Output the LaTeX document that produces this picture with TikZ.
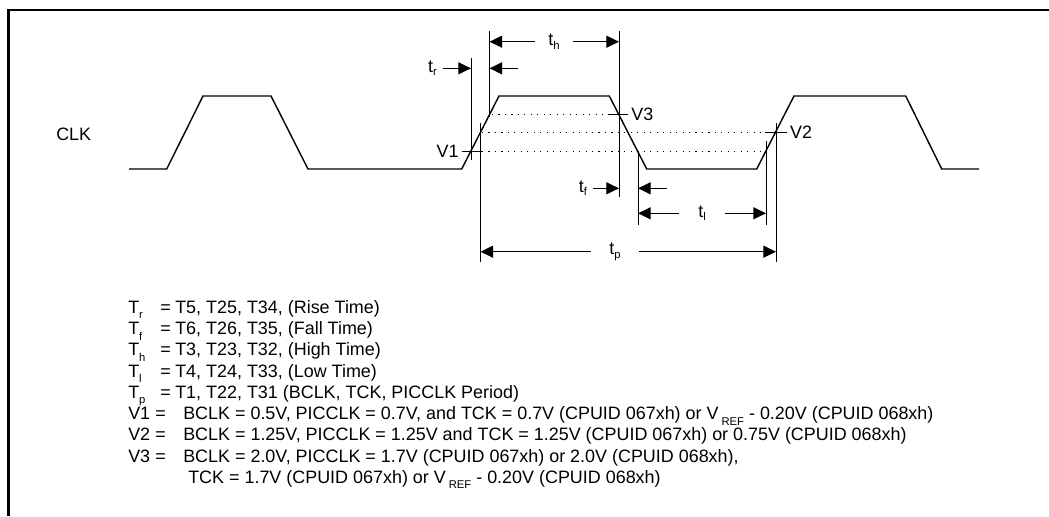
\documentclass[tikz,border=0pt]{standalone}
\usepackage{fontspec}
\setmainfont{Liberation Sans}
\usetikzlibrary{arrows.meta,positioning,calc}
\newcommand{\sub}[2][-2.5pt]{\raisebox{#1}{\fontsize{8}{9}\selectfont #2}}

\begin{document}
\begin{tikzpicture}[x=0.025cm, y=-0.025cm,
  font=\fontsize{12.75}{14}\selectfont,
  wave/.style={line width=1pt, line join=miter},
  frame/.style={line width=1.6pt},
  ext/.style={line width=0.7pt},
  lvl/.style={line width=0.7pt, dash pattern=on 0.8pt off 3.8pt},
  dimarr/.style={line width=0.9pt, -{Triangle[length=9pt,width=8.5pt]}},
  dlbl/.style={inner ysep=1pt, inner xsep=#1},
  vlbl/.style={inner sep=0pt, inner xsep=2pt},
  txt/.style={anchor=base west, inner sep=0pt}]

% ===== page 1049 x 516 px, 1px = 0.025cm =====
\useasboundingbox (0,0) rectangle (1049,516);
\draw[frame] (8.5,516) -- (8.5,10) -- (1049,10);

% ============ waveform ============
\node[anchor=west, inner sep=0pt] (clk) at (56,134) {CLK};
\draw[wave] (129,169) -- (166.7,169) -- (203,96) -- (271,96) -- (308,169)
  -- (461.7,169) -- (499,96) -- (609.3,96) -- (646.7,169)
  -- (756.7,169) -- (794,96) -- (905.7,96) -- (941.7,169) -- (979,169);

% threshold levels
\draw[lvl] (492,114) -- (610,114);
\draw[lvl] (482,132.5) -- (765,132.5);
\draw[lvl] (482,151.5) -- (766,151.5);

% crossings of the edges with the levels
\coordinate (rV1) at (471,151.5);
\coordinate (rV2) at (480.5,132.5);
\coordinate (rV3) at (489.5,114);
\coordinate (fV3) at (619,114);
\coordinate (fV1) at (638,151.5);
\coordinate (nV1) at (766,151.5);
\coordinate (nV2) at (776,132.5);

\node[vlbl, anchor=east] (V1) at (461.7,151.5) {V1};
\node[vlbl, anchor=west] (V3) at (628.3,114) {V3};
\node[vlbl, anchor=west] (V2) at (787,132.5) {V2};
\draw[ext] (V1) -- (481.7,151.5);
\draw[ext] (V3) -- (609.3,114);
\draw[ext] (V2) -- (765,132.5);

% extension lines
\draw[ext] (rV1 |- 0,58) -- (rV1 |- 0,160);
\draw[ext] (rV3 |- 0,31) -- (rV3 |- 0,117);
\draw[ext] (rV2 |- 0,123) -- (rV2 |- 0,262);
\draw[ext] (fV3 |- 0,31) -- (fV3 |- 0,197);
\draw[ext] (fV1 |- 0,151) -- (fV1 |- 0,225);
\draw[ext] (nV1 |- 0,141) -- (nV1 |- 0,225);
\draw[ext] (nV2 |- 0,123) -- (nV2 |- 0,262);

% ============ timing arrows ============
\node[dlbl=0.33cm] (th) at (554,41.7) {t\sub{h}};
\draw[dimarr] (th) -- (th -| rV3);
\draw[dimarr] (th) -- (th -| fV3);

\node[dlbl=0.14cm] (tr) at (432.5,68.3) {t\sub{r}};
\coordinate (trR) at (518,68.3);
\draw[dimarr] (tr) -- (tr -| rV1);
\draw[dimarr] (trR) -- (tr -| rV3);

\node[dlbl=0.13cm] (tf) at (583,188.3) {t\sub{f}};
\coordinate (tfR) at (666.7,188.3);
\draw[dimarr] (tf) -- (tf -| fV3);
\draw[dimarr] (tfR) -- (tf -| fV1);

\node[dlbl=0.48cm] (tl) at (702,213.3) {t\sub{l}};
\draw[dimarr] (tl) -- (tl -| fV1);
\draw[dimarr] (tl) -- (tl -| nV1);

\node[dlbl=0.46cm] (tp) at (615,251.7) {t\sub{p}};
\draw[dimarr] (tp) -- (tp -| rV2);
\draw[dimarr] (tp) -- (tp -| nV2);

% ============ legend ============
\foreach \sb/\txt [count=\i from 0] in {r/{T5, T25, T34, (Rise Time)},
    f/{T6, T26, T35, (Fall Time)}, h/{T3, T23, T32, (High Time)},
    l/{T4, T24, T33, (Low Time)}, p/{T1, T22, T31 (BCLK, TCK, PICCLK Period)}}{
  \node[txt] (T\sb) at (128,313.3+21.25*\i) {T\sub[-4pt]{\sb}};
  \node[txt] (eq\sb) at (160,313.3+21.25*\i) {=};
  \node[txt] (def\sb) at (175,313.3+21.25*\i) {\txt};
}
\node[txt] (v1l) at (128,419.6) {V1};
\node[txt] (v1e) at (155,419.6) {=};
\node[txt] (v1d) at (183,419.6) {BCLK = 0.5V, PICCLK = 0.7V, and TCK = 0.7V (CPUID 067xh) or V\,\sub[-4pt]{REF} - 0.20V (CPUID 068xh)};
\node[txt] (v2l) at (128,440.8) {V2};
\node[txt] (v2e) at (155,440.8) {=};
\node[txt] (v2d) at (183,440.8) {BCLK = 1.25V, PICCLK = 1.25V and TCK = 1.25V (CPUID 067xh) or 0.75V (CPUID 068xh)};
\node[txt] (v3l) at (128,462) {V3};
\node[txt] (v3e) at (155,462) {=};
\node[txt] (v3d) at (183,462) {BCLK = 2.0V, PICCLK = 1.7V (CPUID 067xh) or 2.0V (CPUID 068xh),};
\node[txt] (v3t) at (188,483.3) {TCK = 1.7V (CPUID 067xh) or V\,\sub[-4pt]{REF} - 0.20V (CPUID 068xh)};

\end{tikzpicture}
\end{document}
